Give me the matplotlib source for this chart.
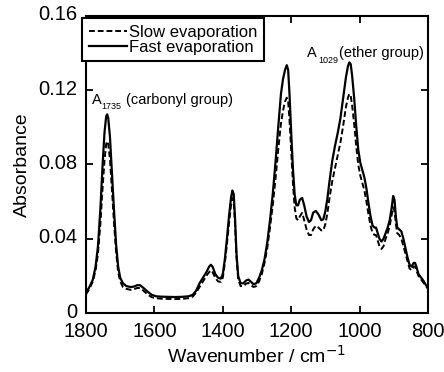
import matplotlib
matplotlib.use('Agg')
import matplotlib.pyplot as plt
import matplotlib.transforms as mtransforms

plt.rcParams['font.family'] = ['Liberation Sans', 'DejaVu Sans']

# wavenumber points (cm-1)
wn = [1800, 1790, 1780, 1772, 1765, 1758, 1752, 1746, 1741, 1738, 1735, 1730, 1724, 1718, 1712, 1706,
      1700, 1692, 1682, 1670, 1660, 1650, 1642, 1632, 1620, 1608, 1595, 1580, 1560, 1540, 1520, 1500,
      1488, 1478, 1468, 1458, 1448, 1440, 1435, 1430, 1422, 1414, 1406, 1400, 1394, 1388, 1382, 1376,
      1372, 1368, 1364, 1360, 1355, 1348, 1340, 1332, 1325, 1318, 1310, 1302, 1294, 1286, 1278, 1270,
      1262, 1254, 1246, 1238, 1230, 1224, 1218, 1213, 1209, 1205, 1200, 1195, 1190, 1185, 1180, 1175,
      1168, 1162, 1155, 1148, 1142, 1136, 1128, 1120, 1112, 1106, 1100, 1094, 1088, 1080, 1072, 1064,
      1056, 1048, 1040, 1034, 1030, 1026, 1022, 1016, 1010, 1004, 998, 992, 986, 980, 974, 968,
      962, 956, 952, 947, 942, 936, 930, 924, 918, 912, 906, 902, 898, 894, 890, 884,
      878, 872, 866, 860, 854, 848, 842, 838, 834, 828, 820, 812, 806, 800]

fast = [0.011, 0.014, 0.018, 0.025, 0.036, 0.056, 0.078, 0.097, 0.106, 0.107, 0.105, 0.095, 0.075, 0.055, 0.037, 0.025,
        0.019, 0.016, 0.0145, 0.014, 0.0142, 0.015, 0.015, 0.0135, 0.0115, 0.0098, 0.009, 0.0088, 0.0087, 0.0086, 0.0087, 0.009,
        0.0098, 0.012, 0.016, 0.019, 0.022, 0.025, 0.026, 0.025, 0.021, 0.019, 0.0185, 0.021, 0.029, 0.040, 0.052, 0.062,
        0.066, 0.064, 0.050, 0.032, 0.020, 0.016, 0.016, 0.0175, 0.018, 0.0168, 0.0155, 0.016, 0.019, 0.023, 0.029, 0.038,
        0.050, 0.064, 0.081, 0.100, 0.118, 0.126, 0.131, 0.1335, 0.131, 0.118, 0.097, 0.078, 0.064, 0.058, 0.058, 0.061,
        0.062, 0.058, 0.052, 0.049, 0.050, 0.054, 0.055, 0.053, 0.050, 0.0505, 0.055, 0.062, 0.071, 0.082, 0.090, 0.097,
        0.105, 0.116, 0.127, 0.133, 0.135, 0.134, 0.128, 0.116, 0.101, 0.088, 0.081, 0.077, 0.073, 0.067, 0.059, 0.052,
        0.047, 0.046, 0.046, 0.043, 0.040, 0.0385, 0.040, 0.043, 0.046, 0.050, 0.057, 0.063, 0.061, 0.052, 0.046, 0.045,
        0.044, 0.040, 0.035, 0.030, 0.026, 0.025, 0.027, 0.027, 0.025, 0.021, 0.019, 0.017, 0.015, 0.014]

slow = [0.010, 0.013, 0.017, 0.023, 0.032, 0.048, 0.066, 0.082, 0.091, 0.0925, 0.091, 0.083, 0.066, 0.048, 0.033, 0.022,
        0.017, 0.014, 0.013, 0.0125, 0.0128, 0.0135, 0.0135, 0.012, 0.010, 0.0085, 0.008, 0.0077, 0.0076, 0.0075, 0.0076, 0.008,
        0.0088, 0.011, 0.014, 0.017, 0.020, 0.022, 0.023, 0.022, 0.019, 0.017, 0.0168, 0.019, 0.027, 0.037, 0.048, 0.058,
        0.062, 0.060, 0.047, 0.030, 0.018, 0.0145, 0.0145, 0.0158, 0.0162, 0.015, 0.014, 0.0145, 0.017, 0.021, 0.027, 0.035,
        0.046, 0.058, 0.072, 0.088, 0.102, 0.109, 0.114, 0.116, 0.114, 0.104, 0.087, 0.070, 0.057, 0.051, 0.050, 0.052,
        0.054, 0.050, 0.045, 0.042, 0.042, 0.045, 0.047, 0.046, 0.0445, 0.0445, 0.048, 0.054, 0.062, 0.071, 0.078, 0.085,
        0.092, 0.101, 0.111, 0.116, 0.118, 0.117, 0.112, 0.102, 0.090, 0.080, 0.074, 0.070, 0.066, 0.060, 0.053, 0.047,
        0.043, 0.042, 0.042, 0.039, 0.036, 0.0345, 0.036, 0.040, 0.043, 0.047, 0.053, 0.057, 0.055, 0.048, 0.043, 0.042,
        0.040, 0.036, 0.032, 0.028, 0.024, 0.023, 0.025, 0.025, 0.023, 0.020, 0.018, 0.016, 0.0145, 0.013]

xticks = [1800, 1600, 1400, 1200, 1000, 800]
yticks = [0, 0.04, 0.08, 0.12, 0.16]
ylabels = ['0', '0.04', '0.08', '0.12', '0.16']

fig = plt.figure(figsize=(4.44, 3.72), dpi=100)
ax = fig.add_axes([0.1937, 0.1586, 0.7703, 0.7984])

ax.plot(wn, slow, color='k', ls=(0, (3, 1.5)), lw=1.4, label='Slow evaporation')
ax.plot(wn, fast, color='k', lw=1.6, label='Fast evaporation')

ax.set_xlim(1800, 800)
ax.set_ylim(0, 0.16)
ax.set_xticks(xticks)
ax.set_yticks(yticks)
ax.set_yticklabels(ylabels)
ax.tick_params(direction='in', top=True, right=True, length=5, width=1.3, labelsize=14.5, pad=6.5)
for s in ax.spines.values():
    s.set_linewidth(1.5)

# y tick labels sit a little above their ticks in the original
shift = mtransforms.ScaledTranslation(0, 3 / 100, fig.dpi_scale_trans)
for lab in ax.get_yticklabels():
    lab.set_transform(lab.get_transform() + shift)

ax.set_xlabel('Wavenumber / cm$^{-1}$', fontsize=14, labelpad=3)
ax.set_ylabel('Absorbance', fontsize=14, labelpad=5)

# peak labels: letter, small subscript, then the group name
ax.text(1782.5, 0.1126, 'A', fontsize=10.5)
ax.text(1756, 0.1099, '1735', fontsize=6.5)
ax.text(1683, 0.1126, '(carbonyl group)', fontsize=10.5)
ax.text(1154, 0.1379, 'A', fontsize=10.5)
ax.text(1122, 0.1345, '1029', fontsize=6.5)
ax.text(1060, 0.1379, '(ether group)', fontsize=10.5)

leg = ax.legend(loc='upper left', bbox_to_anchor=(-0.012, 0.993), borderaxespad=0,
                fontsize=12, frameon=True, fancybox=False, handlelength=2.3,
                handletextpad=0.1, labelspacing=0.0, borderpad=0.4)
leg.get_frame().set_edgecolor('k')
leg.get_frame().set_linewidth(1.5)
leg.get_frame().set_alpha(1)

fig.savefig('out.png', dpi=100)
